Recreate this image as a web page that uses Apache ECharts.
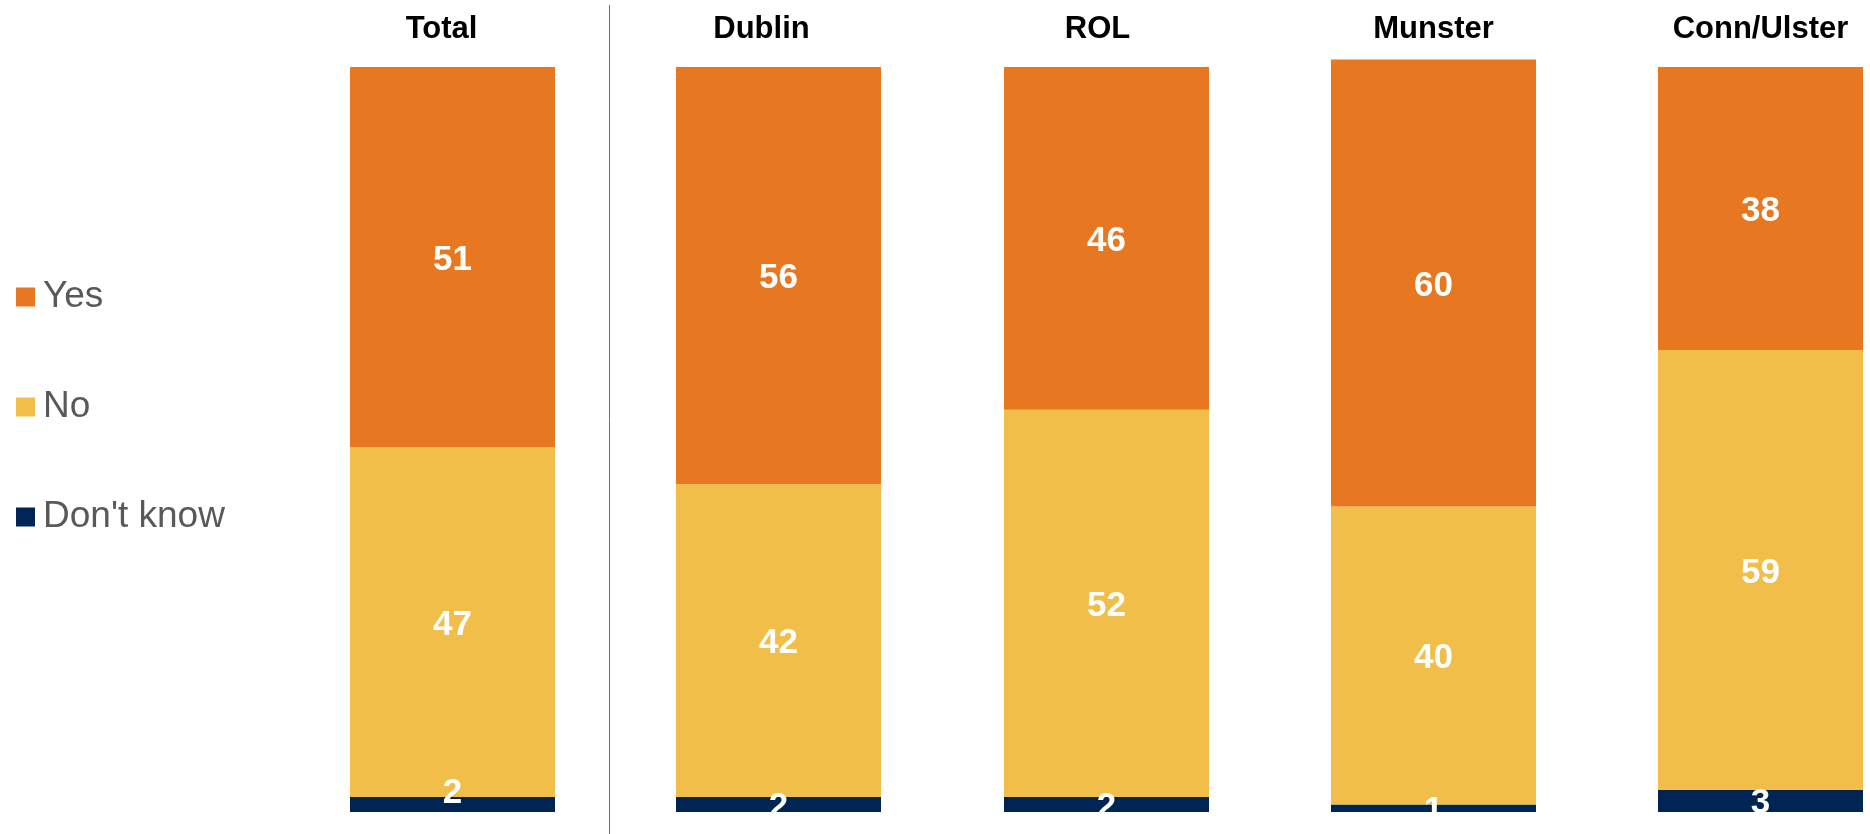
<!DOCTYPE html>
<html>
<head>
<meta charset="utf-8">
<style>
  html, body { margin: 0; padding: 0; background: #fff; }
  #chart { width: 1870px; height: 834px; }
</style>
<script src="https://cdn.jsdelivr.net/npm/echarts@6/dist/echarts.min.js"></script>
</head>
<body>
<div id="chart"></div>
<script>
// data
var categories = ['Total', 'Dublin', 'ROL', 'Munster', 'Conn/Ulster'];
var yes = [51, 56, 46, 60, 38];
var no = [47, 42, 52, 40, 59];
var dontKnow = [2, 2, 2, 1, 3];
var legendNames = ['Yes', 'No', "Don't know"];

// layout of each panel (px)
var panels = [
  { left: 350, width: 205, titleShift: -11, dkShift: -14 },
  { left: 676, width: 205, titleShift: -17, dkShift: 0 },
  { left: 1004, width: 205, titleShift: -9, dkShift: 0 },
  { left: 1331, width: 205, titleShift: 0, dkShift: 0 },
  { left: 1658, width: 205, titleShift: 0, dkShift: 0 }
];
var font = '"Liberation Sans", Arial, sans-serif';

// stacked bottom -> top
var stackParts = [
  { name: "Don't know", values: dontKnow, color: '#002554' },
  { name: 'No', values: no, color: '#F1BE4A' },
  { name: 'Yes', values: yes, color: '#E87722' }
];

var chart = echarts.init(document.getElementById('chart'));

var grids = [], xAxes = [], yAxes = [], series = [];

categories.forEach(function (cat, i) {
  var p = panels[i];
  grids.push({ left: p.left, width: p.width, top: 59.5, bottom: 22 });
  xAxes.push({
    type: 'category', gridIndex: i, data: [cat], position: 'top',
    axisLine: { show: false }, axisTick: { show: false },
    axisLabel: {
      margin: 15, color: '#000', fontSize: 31, fontWeight: 'bold',
      fontFamily: font, padding: [0, 0, 0, p.titleShift * 2]
    }
  });
  yAxes.push({ type: 'value', gridIndex: i, min: 0, max: 101, show: false });
  stackParts.forEach(function (part, s) {
    series.push({
      name: part.name,
      type: 'bar',
      xAxisIndex: i, yAxisIndex: i,
      stack: 'p' + i,
      barWidth: '100%',
      data: [part.values[i]],
      itemStyle: { color: part.color },
      label: {
        show: true, position: 'inside', color: '#fff',
        fontSize: 35, fontWeight: 'bold', fontFamily: font,
        offset: [0, 3 + (s === 0 ? p.dkShift : 0)]
      }
    });
  });
});

chart.setOption({
  animation: false,
  legend: {
    data: legendNames,
    orient: 'vertical',
    left: 11, top: 272,
    icon: 'rect', itemWidth: 19, itemHeight: 19, itemGap: 70,
    textStyle: { color: '#595959', fontSize: 37, fontFamily: font, lineHeight: 40, padding: [0, 0, 0, 3] }
  },
  grid: grids,
  xAxis: xAxes,
  yAxis: yAxes,
  series: series,
  graphic: [
    // labels hanging below the bars are cut off in the original
    { type: 'rect', z: 100, shape: { x: 0, y: 812, width: 1870, height: 22 }, style: { fill: '#fff' } },
    { type: 'line', z: 101, shape: { x1: 609.5, y1: 5, x2: 609.5, y2: 834 }, style: { stroke: '#4472C4', lineWidth: 1 } }
  ]
});
</script>
</body>
</html>
